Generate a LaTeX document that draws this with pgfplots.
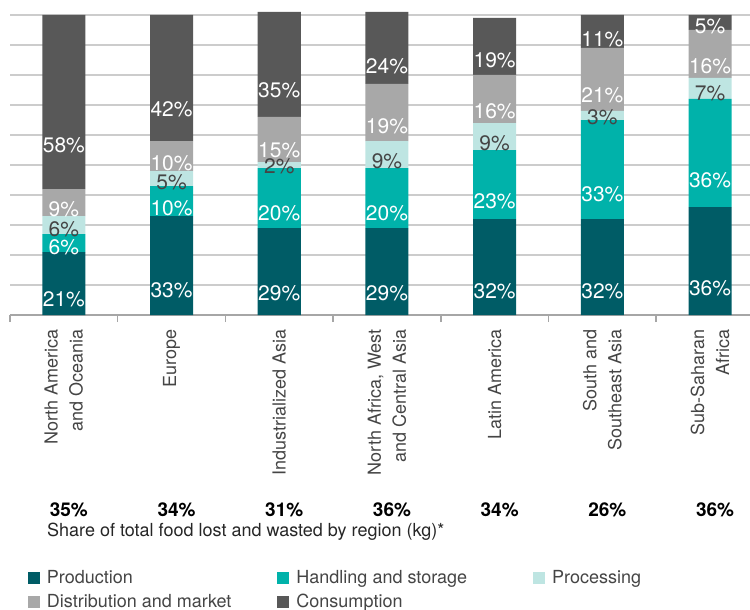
\documentclass[border=0pt]{standalone}
\usepackage{pgfplots}
\usepackage{pgfplotstable}
\pgfplotsset{compat=1.18}
\usepackage{fontspec}
\setmainfont{TeX Gyre Heros}

\definecolor{cprod}{HTML}{005C66}
\definecolor{chand}{HTML}{00B2AA}
\definecolor{cproc}{HTML}{BEE5E2}
\definecolor{cdist}{HTML}{A8A8A8}
\definecolor{ccons}{HTML}{585858}
\definecolor{cgrid}{HTML}{CCCCCC}
\definecolor{caxis}{HTML}{A6A6A6}
\definecolor{ctext}{HTML}{454545}

% share of losses by stage, per region (%)
\pgfplotstableread{
x prod hand proc dist cons
0 21  6  6  9 58
1 33 10  5 10 42
2 29 20  2 15 35
3 29 20  9 19 24
4 32 23  9 16 19
5 32 33  3 21 11
6 36 36  7 16  5
}\loss

% segment fill and label colour
\pgfplotsset{
  seg/.style 2 args={fill=#1, draw=none,
    every node near coord/.append style={text=#2}},
}

\begin{document}
\begin{tikzpicture}
\begin{axis}[
  scale only axis, width=740pt, height=315pt,
  xmin=-0.5, xmax=6.371, ymin=0, ymax=105,
  ybar stacked, bar width=0.4,
  axis lines*=left,
  y axis line style={draw=none},
  x axis line style={caxis, line width=1.5pt},
  clip=false,
  ytick={10,20,...,100}, yticklabels={},
  ymajorgrids, major grid style={cgrid, line width=1.5pt},
  xtick={0,...,6},
  xticklabels={{North America\\and Oceania}, Europe, Industrialized Asia,
    {North Africa, West\\and Central Asia}, Latin America,
    {South and\\Southeast Asia}, {Sub-Saharan\\Africa}},
  minor xtick={-0.5,0.5,...,6.5},
  major tick length=0pt, minor tick length=7pt, tick align=outside,
  every minor tick/.append style={caxis, line width=1.5pt},
  xticklabel style={rotate=90, anchor=east, align=right, inner sep=0pt,
    xshift=-14pt, text=ctext, font=\fontsize{18}{25}\selectfont},
  % label = the segment's own value, centred in the segment
  point meta=explicit symbolic,
  nodes near coords={\pgfplotspointmeta\%},
  every node near coord/.append style={font=\fontsize{21}{21}\selectfont,
    anchor=center, inner sep=0pt, yshift={-0.75pt*\pgfplotspointmeta}},
  legend columns=3,
  legend style={at={(axis description cs:0.024,-0.805)}, anchor=north west,
    draw=none, inner sep=0pt, column sep=0pt, row sep=5pt,
    font=\fontsize{18}{18}\selectfont, text=ctext,
    /tikz/every odd column/.append style={column sep=5pt},
    /tikz/column 2/.append style={column sep=44pt},
    /tikz/column 4/.append style={column sep=64pt}},
  legend cell align=left,
  legend image code/.code={\fill[#1] (0pt,-6pt) rectangle (12pt,6pt);},
]
\addplot[seg={cprod}{white}] table[y=prod, meta=prod] {\loss};
\addlegendentry{Production}
\addplot[seg={chand}{white}] table[y=hand, meta=hand] {\loss};
\addlegendentry{Handling and storage}
\addplot[seg={cproc}{ctext}] table[y=proc, meta=proc] {\loss};
\addlegendentry{Processing}
\addplot[seg={cdist}{white}] table[y=dist, meta=dist] {\loss};
\addlegendentry{Distribution and market}
\addplot[seg={ccons}{white}] table[y=cons, meta=cons] {\loss};
\addlegendentry{Consumption}

% total share per region
\node[font=\bfseries\fontsize{19}{19}\selectfont, yshift=-195pt, xshift=5pt] at (axis cs:0,0) {35\%};
\node[font=\bfseries\fontsize{19}{19}\selectfont, yshift=-195pt, xshift=5pt] at (axis cs:1,0) {34\%};
\node[font=\bfseries\fontsize{19}{19}\selectfont, yshift=-195pt, xshift=5pt] at (axis cs:2,0) {31\%};
\node[font=\bfseries\fontsize{19}{19}\selectfont, yshift=-195pt, xshift=5pt] at (axis cs:3,0) {36\%};
\node[font=\bfseries\fontsize{19}{19}\selectfont, yshift=-195pt, xshift=5pt] at (axis cs:4,0) {34\%};
\node[font=\bfseries\fontsize{19}{19}\selectfont, yshift=-195pt, xshift=5pt] at (axis cs:5,0) {26\%};
\node[font=\bfseries\fontsize{19}{19}\selectfont, yshift=-195pt, xshift=5pt] at (axis cs:6,0) {36\%};
\node[anchor=west, inner sep=0pt, text=black!85, font=\fontsize{18}{18}\selectfont,
  xshift=37pt, yshift=-217pt] at (axis cs:-0.5,0) {Share of total food lost and wasted by region (kg)*};
\end{axis}
\pgfresetboundingbox
\path (-10pt,-295pt) rectangle (740pt,315pt);
\end{tikzpicture}
\end{document}
